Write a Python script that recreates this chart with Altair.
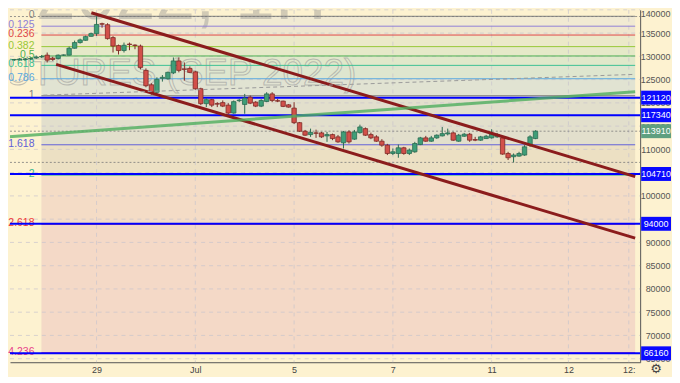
import altair as alt
import pandas as pd

# ---------------- data ----------------
open_p = [129120,129220,129220,129330,129440,129650,129860,130250,129610,129540,
          130250,130250,131740,132960,133450,134300,134880,137010,136800,134030,
          132320,131250,132640,132420,132210,126980,123890,122290,125280,125170,
          126450,129010,127300,127410,126660,123030,119830,120690,119830,120050,
          119510,117810,120470,119660,121220,120150,119300,120300,121920,120470,
          120370,119580,118870,115740,113900,113180,113540,113540,112900,113180,
          112690,111410,113750,112200,113600,114460,113180,112690,111760,110910,
          109120,109120,110340,109120,109480,111040,112470,111760,112470,112900,
          113320,113540,111760,112830,113260,112110,111980,112320,112470,112690,
          112470,109120,108420,108560,108780,110910,112320]
high_p = [129330,129440,129650,129650,129760,130180,130290,130820,129900,130400,
          130400,132100,133380,133810,134450,135090,138610,137230,137120,134340,
          132530,132960,132960,132600,132530,127410,124210,125490,125980,126710,
          129760,129760,128690,127840,126880,123250,121010,120860,120150,120520,
          119940,120520,120860,121920,121580,120370,120790,122290,122290,120860,
          120470,119730,120150,115890,114180,114460,114240,113750,113750,113390,
          113110,113970,114110,114180,115310,114710,113600,113050,112200,111190,
          110190,111040,110550,110190,111620,112690,112900,112900,113220,114820,
          114460,113750,113320,113540,113540,112690,112900,113110,114330,113540,
          112900,109480,109120,109480,110910,113050,114110]
low_p = [128900,129010,129120,129120,129220,129440,129650,128690,129050,129330,
         130080,130180,131680,132740,133380,134240,134390,136160,133600,130820,
         130400,130820,131320,131530,127200,123350,121760,121930,124570,124990,
         126190,126560,124780,126410,122820,119510,119090,119090,119090,119090,
         117590,117660,120150,117660,119730,119090,119090,120150,120150,120150,
         119090,118980,115460,113750,112900,112690,112470,112470,111620,111980,
         111410,110190,111260,112050,113390,112900,112200,111620,110550,108780,
         108780,108200,108840,108780,109270,110910,111620,111620,112260,112790,
         113010,111830,111620,112690,111620,111770,111830,112260,112320,112470,
         108840,107710,107200,108420,108630,110550,112200]
close_p = [129220,129330,129440,129440,129540,129860,129970,129180,129330,130250,
           130290,131740,132960,133530,134240,134880,136860,136910,133810,132210,
           131250,132380,132530,132320,127620,123680,122290,125060,125490,126560,
           129010,126980,127200,126560,123030,119830,120690,119510,119730,119300,
           117810,120260,120580,121010,119940,119300,120520,121920,120520,120370,
           119240,119090,115740,113900,113050,113650,113470,112690,113180,112320,
           111620,113750,111620,113750,114820,113050,112470,111760,110910,109120,
           109480,110340,109120,109850,111260,112470,111760,112470,113050,113390,
           113540,111980,113050,113260,111980,111980,112690,112830,113390,113180,
           108990,108200,108780,109120,110550,112690,113910]

price_ticks = [65000, 70000, 75000, 80000, 85000, 90000, 95000, 100000, 105000,
               110000, 115000, 120000, 125000, 130000, 135000, 140000]
time_tick_pos = [16, 34, 52, 70, 88, 102, 113]
time_tick_lab = ["29", "Jul", "5", "7", "11", "12", "12:"]

fib_levels = ["0", "0.125", "0.236", "0.382", "0.5", "0.618", "0.786", "1",
              "1.618", "2", "2.618", "4.236"]
fib_prices = [138610, 136480, 134580, 132090, 130080, 128060, 125190, 121540,
              110990, 104470, 93920, 66290]
fib_colors = ["#808080", "#8f7fd8", "#e04848", "#98c836", "#4caf50", "#3cbf94",
              "#5aa8e0", "#808080", "#6060d8", "#36b890", "#f03a3a", "#e8408a"]
band_colors = ["#f1ead3", "#efe6cf", "#ebe9c9", "#e5e9c8", "#e0e8ca", "#dee6cf",
               "#e1e3d2", "#e2dfcc", "#ece0c3", "#f4dcc6", "#f4d9c7"]

hline_prices = [121120, 117340, 104710, 94000, 66160]
last_price = 113910
dotted_prices = [138560, 113910, 107200]

trend_i1 = [15.05, 8.63, -0.3, 6.3]
trend_p1 = [139360, 128260, 112690, 121650]
trend_i2 = [114.16, 114.16, 114.16, 114.16]
trend_p2 = [104150, 90920, 122400, 126130]
trend_kind = ["red", "red", "green", "dash"]

# ---------------- layout ----------------
W, H = 633, 354
AXW, AXH = 31, 13
X_DOM = [1.13, 114.16]
Y_DOM = [64243, 140000]
FIB_START = 5.95
BG = "#fdf2d0"
FONT = "Liberation Sans"

xs = alt.Scale(domain=X_DOM, nice=False, zero=False)
ys = alt.Scale(domain=Y_DOM, nice=False, zero=False)

label_expr = "".join(
    f"datum.value == {p} ? '{t}' : " for p, t in zip(time_tick_pos, time_tick_lab)
) + "''"

x_axis = alt.Axis(values=time_tick_pos, labelExpr=label_expr, ticks=False, grid=False,
                  domain=True, domainColor="#555555", labelColor="#444444",
                  labelFontSize=9, labelFont=FONT, labelPadding=3, minExtent=AXH,
                  maxExtent=AXH, labelOverlap=False, labelFlush=False, title=None)
y_axis = alt.Axis(orient="right", values=price_ticks, format="d", ticks=False,
                  grid=False, domain=True, domainColor="#555555",
                  labelColor="#555555", labelFontSize=9, labelFont=FONT,
                  labelAlign="right", labelPadding=AXW - 1, minExtent=AXW,
                  maxExtent=AXW, labelOverlap=False, labelFlush=True, title=None)


def X(f):
    return alt.X(f, scale=xs, axis=x_axis)


def Y(f):
    return alt.Y(f, scale=ys, axis=y_axis)


# bands
bands = pd.DataFrame({
    "i1": [FIB_START] * len(band_colors),
    "i2": [X_DOM[1]] * len(band_colors),
    "p1": fib_prices[:-1],
    "p2": fib_prices[1:],
    "c": band_colors,
})
band_layer = alt.Chart(bands).mark_rect().encode(
    x=X("i1:Q"), x2="i2:Q", y=Y("p1:Q"), y2="p2:Q",
    color=alt.Color("c:N", scale=None),
)

# grid
hgrid = alt.Chart(pd.DataFrame({"p": price_ticks})).mark_rule(
    color="#c8c4cc", strokeDash=[4, 4], strokeWidth=1, opacity=0.7
).encode(y=Y("p:Q"), x=alt.value(0), x2=alt.value(W))
vgrid = alt.Chart(pd.DataFrame({"i": time_tick_pos})).mark_rule(
    color="#c8c4cc", strokeDash=[4, 4], strokeWidth=1, opacity=0.7
).encode(x=X("i:Q"), y=alt.value(0), y2=alt.value(H))

# watermark
wm1 = alt.Chart(pd.DataFrame({"t": ["2022, 1H"]})).mark_text(
    fontSize=72, font=FONT, color="#8a8a8a", opacity=0.38, align="center",
    baseline="alphabetic", clip=True
).encode(text="t:N", x=alt.value(172), y=alt.value(9))
wm2 = alt.Chart(pd.DataFrame({"t": ["FUTURES (SEP 2022)"]})).mark_text(
    fontSize=37, font=FONT, fillOpacity=0, stroke="#9a9a9a", strokeWidth=1,
    strokeOpacity=0.6, align="center", baseline="alphabetic", clip=True
).encode(text="t:N", x=alt.value(160), y=alt.value(76))

# fib lines and labels
fib = pd.DataFrame({"lvl": fib_levels, "p": fib_prices, "c": fib_colors,
                    "i1": [FIB_START] * len(fib_levels),
                    "i2": [X_DOM[1]] * len(fib_levels)})
fib_lines = alt.Chart(fib).mark_rule(strokeWidth=1).encode(
    x=X("i1:Q"), x2="i2:Q", y=Y("p:Q"), color=alt.Color("c:N", scale=None))
fib_labels = alt.Chart(fib).mark_text(
    align="right", baseline="middle", dx=-7, dy=-1, fontSize=10.5, font=FONT
).encode(x=X("i1:Q"), y=Y("p:Q"), text="lvl:N", color=alt.Color("c:N", scale=None))

# horizontal blue lines
blue_lines = alt.Chart(pd.DataFrame({"p": hline_prices})).mark_rule(
    color="#0000ff", strokeWidth=2
).encode(y=Y("p:Q"), x=alt.value(0), x2=alt.value(W))

dotted = alt.Chart(pd.DataFrame({"p": dotted_prices})).mark_rule(
    color="#7a7a7a", strokeDash=[2, 2], strokeWidth=1, opacity=0.8
).encode(y=Y("p:Q"), x=alt.value(0), x2=alt.value(W))

# candles
n = len(open_p)
candles = pd.DataFrame({
    "i": list(range(n)), "o": open_p, "h": high_p, "l": low_p, "c": close_p,
})
candles["fill"] = ["#3f9e78" if c >= o else "#d2504a" for o, c in zip(open_p, close_p)]
candles["edge"] = ["#2b6b52" if c >= o else "#7e2a26" for o, c in zip(open_p, close_p)]
candles = candles[candles.i >= 1]
wicks = alt.Chart(candles).mark_rule(strokeWidth=1).encode(
    x=X("i:Q"), y=Y("l:Q"), y2="h:Q", color=alt.Color("edge:N", scale=None))
bodies = alt.Chart(candles).mark_bar(size=4.4, strokeWidth=0.8).encode(
    x=X("i:Q"), y=Y("o:Q"), y2="c:Q", color=alt.Color("fill:N", scale=None),
    stroke=alt.Stroke("edge:N", scale=None))

# trend lines
trends = pd.DataFrame({"i1": trend_i1, "p1": trend_p1, "i2": trend_i2,
                       "p2": trend_p2, "k": trend_kind})
red_tr = alt.Chart(trends[trends.k == "red"]).mark_rule(
    color="#8b1c1c", strokeWidth=3, clip=True
).encode(x=X("i1:Q"), x2="i2:Q", y=Y("p1:Q"), y2="p2:Q")
green_tr = alt.Chart(trends[trends.k == "green"]).mark_rule(
    color="#4fae5e", strokeWidth=3, opacity=0.8, clip=True
).encode(x=X("i1:Q"), x2="i2:Q", y=Y("p1:Q"), y2="p2:Q")
dash_tr = alt.Chart(trends[trends.k == "dash"]).mark_rule(
    color="#9a9a9a", strokeWidth=1, strokeDash=[4, 3], clip=True
).encode(x=X("i1:Q"), x2="i2:Q", y=Y("p1:Q"), y2="p2:Q")

# price boxes on the right axis
box_prices = hline_prices + [last_price]
box_colors = ["#0a0aff"] * len(hline_prices) + ["#5f9f80"]
boxes_df = pd.DataFrame({"p": box_prices, "c": box_colors,
                         "t": [str(v) for v in box_prices]})
boxes = alt.Chart(boxes_df).mark_rect(yOffset=-7, y2Offset=7).encode(
    y=Y("p:Q"), y2="p:Q",
    x=alt.value(W + 1), x2=alt.value(W + AXW), color=alt.Color("c:N", scale=None))
box_text = alt.Chart(boxes_df).mark_text(
    color="white", fontSize=9, font=FONT, align="center", baseline="middle"
).encode(y=Y("p:Q"), x=alt.value(W + 16), text="t:N")

gear = alt.Chart(pd.DataFrame({"t": ["\u2699"]})).mark_text(
    fontSize=13, color="#444444", font="DejaVu Sans", baseline="middle"
).encode(text="t:N", x=alt.value(W + 16), y=alt.value(H + 7))

chart = alt.layer(
    band_layer, hgrid, vgrid, wm1, wm2, fib_lines, fib_labels, blue_lines, dotted,
    wicks, bodies, red_tr, green_tr, dash_tr, boxes, box_text, gear
).properties(width=W, height=H, padding=0, background=BG).configure_view(strokeWidth=0)

chart.save("out.html", embed_options={"renderer": "svg", "actions": False})
